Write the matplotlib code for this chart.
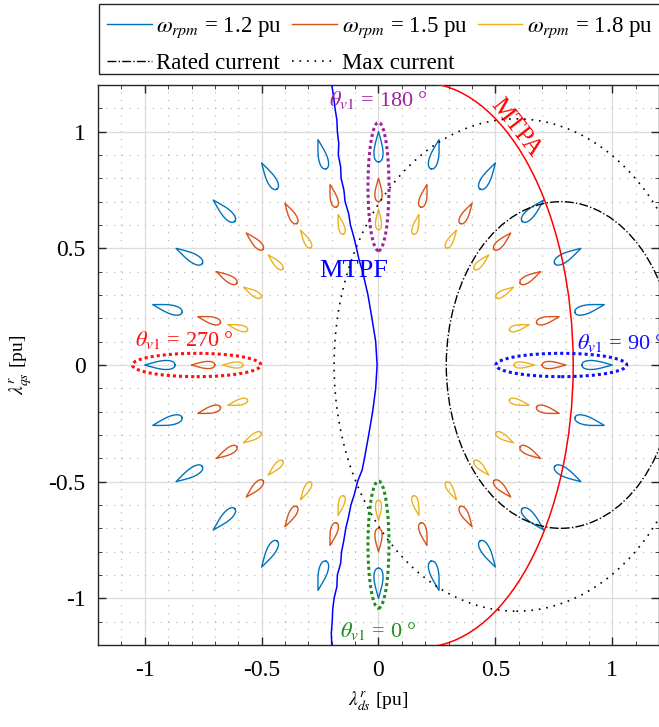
import matplotlib
matplotlib.use("Agg")
import matplotlib.pyplot as plt
import numpy as np
from matplotlib.lines import Line2D
from matplotlib.patches import Ellipse, Arc, Rectangle

plt.rcParams['font.family'] = ['Liberation Serif', 'DejaVu Serif']
plt.rcParams['mathtext.fontset'] = 'stix'
plt.rcParams['axes.unicode_minus'] = False

# rotor speeds and the flux petals each one traces
speeds = [1.2, 1.5, 1.8]
speed_colors = ['#0072BD', '#D95319', '#EDB120']
tip_radius = [1.0, 0.80, 0.667]
base_radius = [0.87, 0.70, 0.58]
petal_width = [0.039, 0.031, 0.026]
theta_v1 = np.arange(0, 360, 15)

# unit petal outline: u runs from the round base (0) to the tip (1)
petal_u = [0.0, 0.02, 0.06, 0.12, 0.20, 0.30, 0.40, 0.50, 0.60, 0.70, 0.80, 0.90, 1.0]
petal_v = [0.0, 0.42, 0.66, 0.85, 0.96, 1.00, 0.96, 0.86, 0.72, 0.55, 0.37, 0.19, 0.0]

# current limits in the flux plane (center, half widths)
rated_center = (0.78, 0.0)
rated_axes = (0.49, 0.70)
max_center = (0.59, 0.0)
max_axes = (0.78, 1.055)

# MTPA locus
mtpa_center = (0.182, 0.0)
mtpa_axes = (0.651, 1.21)

# MTPF locus
mtpf_y = [1.2, 1.15, 1.1, 1.05, 1.0, 0.95, 0.9, 0.85, 0.8, 0.75, 0.7, 0.65, 0.6,
          0.55, 0.5, 0.45, 0.4, 0.3, 0.2, 0.1, 0.0, -0.1, -0.2, -0.3, -0.4, -0.45,
          -0.5, -0.55, -0.6, -0.65, -0.7, -0.75, -0.8, -0.85, -0.9, -0.95, -1.0,
          -1.05, -1.1, -1.15, -1.2]
mtpf_x = [-0.200, -0.192, -0.186, -0.178, -0.176, -0.170, -0.172, -0.162, -0.160,
          -0.148, -0.143, -0.128, -0.120, -0.106, -0.094, -0.083, -0.068, -0.045,
          -0.028, -0.012, -0.006, -0.012, -0.025, -0.042, -0.060, -0.070, -0.090,
          -0.102, -0.118, -0.128, -0.140, -0.148, -0.158, -0.162, -0.176, -0.178,
          -0.190, -0.196, -0.198, -0.202, -0.200]

# highlighted groups: label, color, ellipse center/size, label position
groups = [
    (r'$\theta_{v1}$ = 180 °', '#A0219F', (0.0, 0.765), (0.09, 0.55), (0.0, 1.135), 'center'),
    (r'$\theta_{v1}$ = 0 °', '#1E8C1E', (0.0, -0.77), (0.09, 0.545), (0.0, -1.14), 'center'),
    (r'$\theta_{v1}$ = 270 °', '#FF1010', (-0.778, 0.0), (0.55, 0.10), (-0.83, 0.107), 'center'),
    (r'$\theta_{v1}$ = 90 °', '#1010FF', (0.782, 0.0), (0.56, 0.10), (0.85, 0.095), 'left'),
]

fig = plt.figure(figsize=(6.59, 7.27), dpi=100)
ax = fig.add_axes([98 / 659, 82 / 727, 561 / 659, 560 / 727])

ax.set_xlim(-1.2, 1.2)
ax.set_ylim(-1.2, 1.2)
ax.set_xticks([-1, -0.5, 0, 0.5, 1])
ax.set_xticklabels(['-1', '-0.5', '0', '0.5', '1'])
ax.set_yticks([-1, -0.5, 0, 0.5, 1])
ax.set_yticklabels(['-1', '-0.5', '0', '0.5', '1'])
ax.set_xticks(np.arange(-1.2, 1.21, 0.1), minor=True)
ax.set_yticks(np.arange(-1.2, 1.21, 0.1), minor=True)
ax.tick_params(which='both', direction='in', top=True, right=True, labelsize=17,
               color='#262626')
ax.tick_params(axis='x', pad=11)
ax.tick_params(axis='y', pad=9)
ax.tick_params(which='major', length=6, width=1)
ax.tick_params(which='minor', length=3, width=0.6)
ax.grid(which='major', color='#DCDCDC', lw=0.9, ls='-', zorder=0)
ax.grid(which='minor', color='#B4B4B4', lw=0.8, ls=(0, (1, 6)), zorder=0)
for s in ax.spines.values():
    s.set_color('#262626')
    s.set_linewidth(1.0)

pu = np.array(petal_u)
pv = np.array(petal_v)
outline_u = np.concatenate([pu, pu[::-1]])
outline_v = np.concatenate([pv, -pv[::-1]])

for k, w in enumerate(speeds):
    length = tip_radius[k] - base_radius[k]
    for th in theta_v1:
        a = np.deg2rad(th)
        # radial direction for this voltage angle (0 deg points down)
        ex, ey = np.sin(a), -np.cos(a)
        r = base_radius[k] + outline_u * length
        n = outline_v * petal_width[k] / 2
        ax.plot(r * ex - n * ey, r * ey + n * ex, color=speed_colors[k], lw=1.0, zorder=3)

ax.add_patch(Ellipse(rated_center, 2 * rated_axes[0], 2 * rated_axes[1], fill=False,
                     ec='black', lw=1.0, ls='-.', zorder=4))
ax.add_patch(Ellipse(max_center, 2 * max_axes[0], 2 * max_axes[1], fill=False,
                     ec='black', lw=1.2, ls=(0, (1, 3.5)), zorder=4))
ax.add_patch(Arc(mtpa_center, 2 * mtpa_axes[0], 2 * mtpa_axes[1], theta1=-90, theta2=90,
                 color='red', lw=1.1, zorder=4))
ax.plot(mtpf_x, mtpf_y, color='blue', lw=1.1, zorder=4)

for label, col, c, size, pos, ha in groups:
    ax.add_patch(Ellipse(c, size[0], size[1], fill=False, ec=col, lw=2.2,
                         ls=(0, (1, 1)), zorder=5))
    ax.text(pos[0], pos[1], label, color=col, fontsize=16, ha=ha, va='center', zorder=6)

ax.text(-0.107, 0.405, 'MTPF', color='blue', fontsize=19, ha='center', va='center')
ax.text(0.585, 1.015, 'MTPA', color='red', fontsize=18, ha='center', va='center',
        rotation=-52)

ax.set_xlabel(r'$\lambda_{ds}^{r}$ [pu]', fontsize=14, labelpad=6)
ax.set_ylabel(r'$\lambda_{qs}^{r}$ [pu]', fontsize=14, labelpad=10)

handles = [
    Line2D([], [], color=speed_colors[0], lw=1),
    Line2D([], [], color='black', lw=1, ls='-.'),
    Line2D([], [], color=speed_colors[1], lw=1),
    Line2D([], [], color='black', lw=1.2, ls=(0, (1, 3.5))),
    Line2D([], [], color=speed_colors[2], lw=1),
]
labels = [
    r'$\omega_{rpm}$ = %.1f pu' % speeds[0],
    'Rated current',
    r'$\omega_{rpm}$ = %.1f pu' % speeds[1],
    'Max current',
    r'$\omega_{rpm}$ = %.1f pu' % speeds[2],
]
leg = fig.legend(handles, labels, ncol=3, loc='upper left',
                 bbox_to_anchor=(107 / 659, 1 - 16 / 727),
                 fontsize=16.5, frameon=False, borderaxespad=0, borderpad=0,
                 handlelength=1.95, handletextpad=0.2, labelspacing=0.55,
                 columnspacing=0.45)

# legend box runs across the full width above the axes
fig.add_artist(Rectangle((99 / 659, 1 - 74 / 727), 565 / 659, 70 / 727,
                         transform=fig.transFigure, fill=False, ec='#262626', lw=1.0))

fig.savefig('out.png', dpi=100)
